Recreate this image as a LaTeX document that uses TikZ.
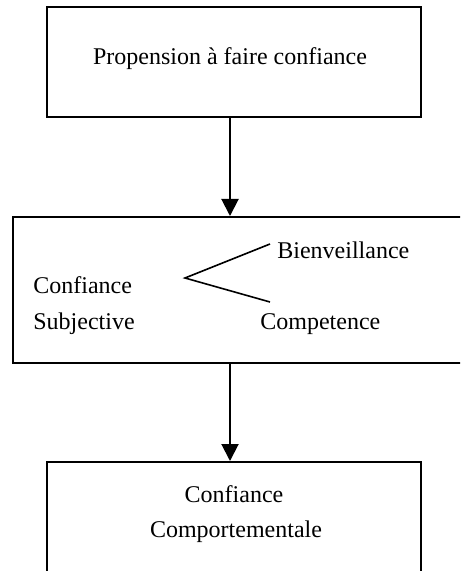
\documentclass[tikz,border=0pt]{standalone}
\usepackage{fontspec}
\setmainfont{Liberation Serif}
\usetikzlibrary{arrows.meta}
\begin{document}
\begin{tikzpicture}[x=0.5pt, y=-0.5pt,
  box/.style={draw, line width=1pt, inner sep=0pt},
  lbl/.style={inner sep=0pt, font=\fontsize{12}{14}\selectfont},
  arr/.style={line width=1pt, -{Triangle[width=8.5pt,length=8.5pt]}},
  branch/.style={line width=0.8pt}]
  \useasboundingbox (0,0) rectangle (460,571);
  \clip (0,0) rectangle (460,571);

  % boxes
  \node[box, minimum width=187pt, minimum height=55pt] (top) at (234,62) {};
  \node[box, minimum width=231pt, minimum height=73pt] (mid) at (244,290) {};
  \node[box, minimum width=187pt, minimum height=64pt] (bot) at (234,526) {};

  % labels
  \node[lbl, anchor=base] (t1) at (230,65) {Propension à faire confiance};
  \node[lbl, anchor=base west] (s1) at (33,293) {Confiance};
  \node[lbl, anchor=base west] (s2) at (33,329) {Subjective};
  \node[lbl, anchor=base west] (b1) at (277,258) {Bienveillance};
  \node[lbl, anchor=base west] (c1) at (260,329) {Competence};
  \node[lbl, anchor=base] (k1) at (234,502) {Confiance};
  \node[lbl, anchor=base] (k2) at (236,537) {Comportementale};

  % branching lines
  \coordinate (v) at (185,278);
  \coordinate (bu) at (270,244);
  \coordinate (cl) at (270,302);
  \draw[branch] (bu) -- (v) -- (cl);

  % arrows
  \draw[arr] ([xshift=-2pt]top.south) -- ([xshift=-7pt]mid.north);
  \draw[arr] ([xshift=-7pt]mid.south) -- ([xshift=-2pt]bot.north);
\end{tikzpicture}
\end{document}
